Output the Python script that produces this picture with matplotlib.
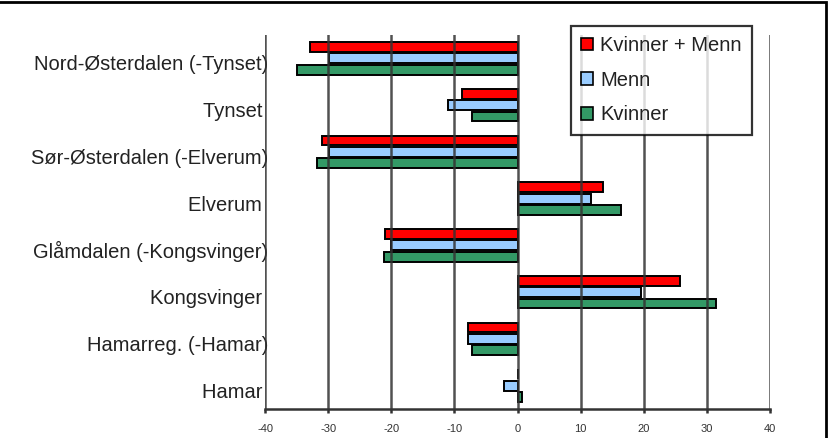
import matplotlib
matplotlib.use("Agg")
import matplotlib.pyplot as plt
from matplotlib.patches import Rectangle, Patch
from matplotlib.transforms import ScaledTranslation
import numpy as np

plt.rcParams['font.family'] = ['Liberation Sans', 'DejaVu Sans']

categories = ["Nord-Østerdalen (-Tynset)", "Tynset ", "Sør-Østerdalen (-Elverum)", "Elverum ",
              "Glåmdalen (-Kongsvinger)", "Kongsvinger ", "Hamarreg. (-Hamar)", "Hamar "]
kvinner_menn = [-32.8, -8.8, -31.0, 13.6, -21.0, 25.7, -7.8, 0.0]
menn = [-29.8, -11.0, -29.8, 11.6, -20.0, 19.6, -7.9, -2.2]
kvinner = [-34.9, -7.2, -31.7, 16.4, -21.1, 31.5, -7.2, 0.7]
series_names = ["Kvinner + Menn", "Menn", "Kvinner"]
colors = ["#FF0000", "#99CCFF", "#339966"]
xticks = [-40, -30, -20, -10, 0, 10, 20, 30, 40]

fig = plt.figure(figsize=(8.31, 4.38), dpi=100)
ax = fig.add_axes([265/831, 1-409/438, (770-265)/831, (409-35)/438])

n = len(categories)
y = np.arange(n)[::-1].astype(float)
h = 0.21
step = 0.245
for vals, off, c in zip([kvinner_menn, menn, kvinner], [step, 0, -step], colors):
    ax.barh(y + off, vals, height=h, color=c, edgecolor='black', linewidth=1.4, zorder=3)

ax.set_xlim(-40, 40)
ax.set_ylim(-0.5, n - 0.5)
for xv in xticks:
    ax.axvline(xv, color='#333333', lw=1.8, zorder=4, alpha=0.85)

for s in ['top', 'right', 'left']:
    ax.spines[s].set_visible(False)
ax.spines['bottom'].set_color('#333333')
ax.spines['bottom'].set_linewidth(1.8)
ax.spines['bottom'].set_zorder(5)

ax.set_xticks(xticks)
ax.set_xticklabels([str(v) for v in xticks], fontsize=8, color='#333333')
ax.tick_params(axis='x', length=3, width=1.8, color='#333333', pad=8)

ax.set_yticks(y)
ax.set_yticklabels(categories, fontsize=14.5, color='#222222')
ax.tick_params(axis='y', length=0, pad=0)
for lab in ax.get_yticklabels():
    lab.set_transform(lab.get_transform() + ScaledTranslation(3/100, -4.5/100, fig.dpi_scale_trans))

handles = [Patch(facecolor=c, edgecolor='black', linewidth=1.2) for c in colors]
leg = fig.legend(handles, series_names, loc='upper left',
                 bbox_to_anchor=(571/831, 1-26/438), borderaxespad=0,
                 frameon=True, fancybox=False, edgecolor='black',
                 fontsize=14.5, handlelength=0.6, handleheight=0.6,
                 handletextpad=0.35, labelspacing=0.78, borderpad=0.5)
leg.get_frame().set_linewidth(1.6)
leg.set_zorder(10)
for t in leg.get_texts():
    t.set_color('#222222')

fig.patches.append(Rectangle((-0.01, -0.01), 1-3/831+0.01-0.002, 1-2/438+0.01,
                             transform=fig.transFigure, fill=False,
                             edgecolor='black', lw=2, zorder=20))

fig.savefig("out.png", dpi=100)
